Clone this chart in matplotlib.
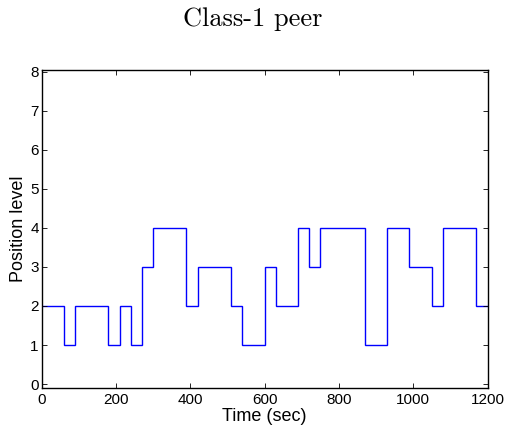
import numpy as np
import matplotlib
matplotlib.use("Agg")
import matplotlib.pyplot as plt

# position level held over each 30 s slot
edges = np.arange(0, 1201, 30)
levels = [2, 2, 1, 2, 2, 2, 1, 2, 1, 3,
          4, 4, 4, 2, 3, 3, 3, 2, 1, 1,
          3, 2, 2, 4, 3, 4, 4, 4, 4, 1,
          1, 4, 4, 3, 3, 2, 4, 4, 4, 2]
xticks = [0, 200, 400, 600, 800, 1000, 1200]
yticks = list(range(0, 9))

plt.rcParams['font.family'] = ['Liberation Sans', 'DejaVu Sans']

fig = plt.figure(figsize=(5.1, 4.25), dpi=100)
ax = fig.add_axes([0.0814, 0.0871, 0.8745, 0.7482])

ax.stairs(levels, edges, baseline=None, color='#0000ff', linewidth=1.0)

ax.set_xlim(0, 1200)
ax.set_ylim(-0.1, 8.04)
ax.set_xticks(xticks)
ax.set_yticks(yticks)
ax.tick_params(direction='in', length=3.5, width=0.6, top=True, right=True,
               labelsize=11, colors='black')
ax.tick_params(axis='x', pad=3.5)
ax.tick_params(axis='y', pad=2)
for s in ax.spines.values():
    s.set_linewidth(1.0)

ax.set_xlabel('Time (sec)', fontsize=13, va='baseline')
ax.xaxis.set_label_coords(0.5, -0.104)
ax.set_ylabel('Position level', fontsize=13, va='baseline')
ax.yaxis.set_label_coords(-0.041, 0.5)

fig.text(253 / 510, 1 - 26 / 425, 'Class-1 peer', family='cmr10', fontsize=19,
         ha='center', va='baseline')

fig.savefig('out.png', dpi=100)
